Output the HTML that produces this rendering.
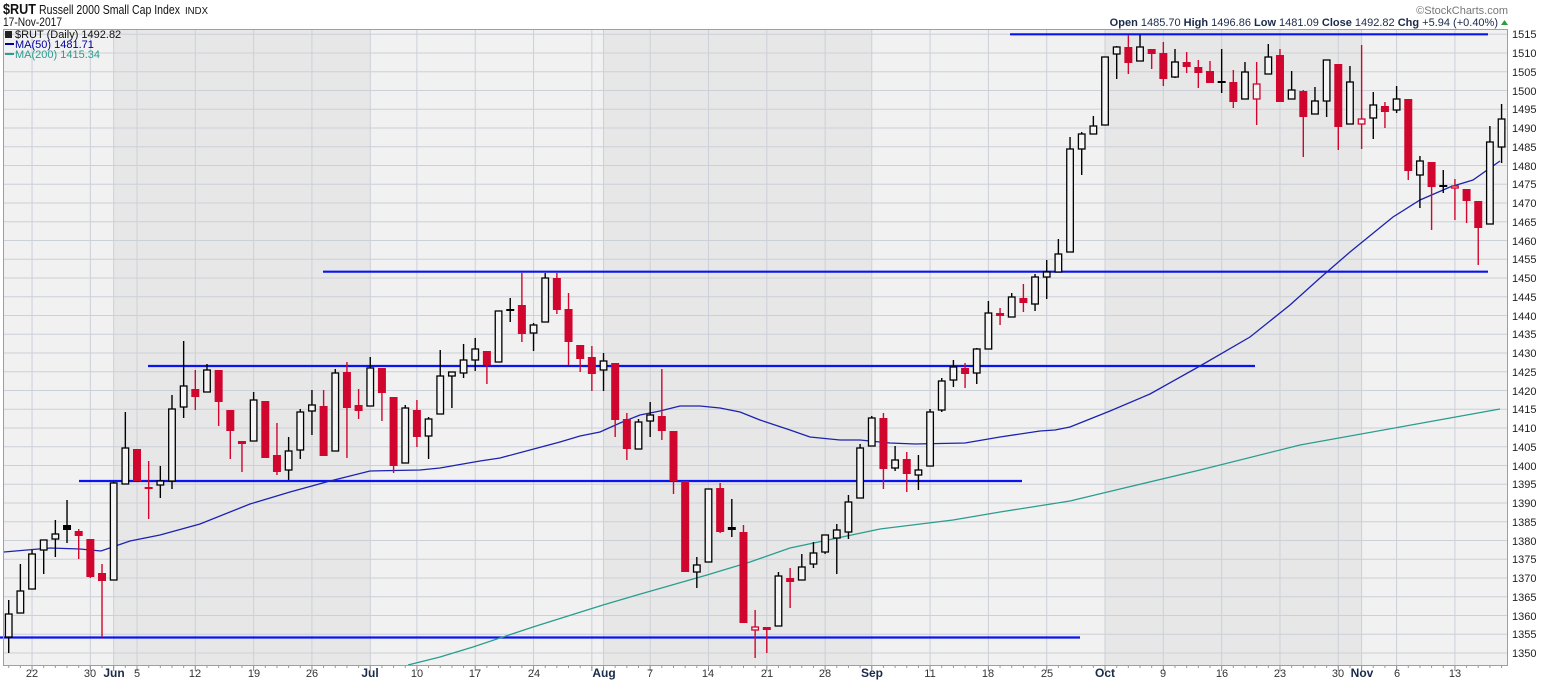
<!DOCTYPE html>
<html><head><meta charset="utf-8"><style>
html,body{margin:0;padding:0;background:#fff;width:1542px;height:680px;overflow:hidden}
svg{display:block}
text{font-family:"Liberation Sans",Arial,sans-serif}
</style></head><body>
<svg id="s" width="1542" height="680" xmlns="http://www.w3.org/2000/svg">
<rect x="0" y="0" width="1542" height="680" fill="#fff"/>
<g id="bg"></g>
<g id="grid"></g>
<g id="hl"></g>
<g id="ma"></g>
<g id="cs"></g>
<rect x="3.5" y="29.5" width="1504" height="636" fill="none" stroke="#9aa0a8" stroke-width="1"/>
<g id="ticks"></g>
<text x="3" y="14" font-size="15" font-weight="bold" fill="#111" textLength="33" lengthAdjust="spacingAndGlyphs">$RUT</text>
<text x="39" y="14" font-size="13" fill="#111" textLength="141" lengthAdjust="spacingAndGlyphs">Russell 2000 Small Cap Index</text>
<text x="185" y="14" font-size="10" fill="#111" textLength="23" lengthAdjust="spacingAndGlyphs">INDX</text>
<text x="3" y="26" font-size="12" fill="#111" textLength="59" lengthAdjust="spacingAndGlyphs">17-Nov-2017</text>
<rect x="5" y="31" width="7" height="7" fill="#222"/>
<text x="15" y="38" font-size="11" fill="#111">$RUT (Daily) 1492.82</text>
<line x1="5" y1="44" x2="14" y2="44" stroke="#0000a0" stroke-width="2"/>
<text x="15" y="48" font-size="11" fill="#0000a0">MA(50) 1481.71</text>
<line x1="5" y1="54" x2="14" y2="54" stroke="#2a9d8f" stroke-width="2"/>
<text x="15" y="58" font-size="11" fill="#2a9d8f">MA(200) 1415.34</text>
<text x="1508" y="14" font-size="11" fill="#777" text-anchor="end">©StockCharts.com</text>
<text x="1498" y="26" font-size="11" fill="#1a2a4a" text-anchor="end"><tspan font-weight="bold">Open</tspan> 1485.70  <tspan font-weight="bold">High</tspan> 1496.86  <tspan font-weight="bold">Low</tspan> 1481.09  <tspan font-weight="bold">Close</tspan> 1492.82  <tspan font-weight="bold">Chg</tspan> +5.94 (+0.40%)</text>
<polygon points="1501,25 1508,25 1504.5,20" fill="#2a9d3f"/>
<g font-size="11" fill="#222">
<text x="1512" y="38">1515</text><text x="1512" y="57">1510</text><text x="1512" y="76">1505</text><text x="1512" y="95">1500</text><text x="1512" y="113">1495</text><text x="1512" y="132">1490</text><text x="1512" y="151">1485</text><text x="1512" y="170">1480</text><text x="1512" y="188">1475</text><text x="1512" y="207">1470</text><text x="1512" y="226">1465</text><text x="1512" y="245">1460</text><text x="1512" y="263">1455</text><text x="1512" y="282">1450</text><text x="1512" y="301">1445</text><text x="1512" y="320">1440</text><text x="1512" y="338">1435</text><text x="1512" y="357">1430</text><text x="1512" y="376">1425</text><text x="1512" y="395">1420</text><text x="1512" y="413">1415</text><text x="1512" y="432">1410</text><text x="1512" y="451">1405</text><text x="1512" y="470">1400</text><text x="1512" y="488">1395</text><text x="1512" y="507">1390</text><text x="1512" y="526">1385</text><text x="1512" y="545">1380</text><text x="1512" y="563">1375</text><text x="1512" y="582">1370</text><text x="1512" y="601">1365</text><text x="1512" y="620">1360</text><text x="1512" y="638">1355</text><text x="1512" y="657">1350</text>
</g>
<g font-size="11" fill="#333" text-anchor="middle">
<text x="32" y="677">22</text><text x="90" y="677">30</text><text x="137" y="677">5</text><text x="195" y="677">12</text><text x="254" y="677">19</text><text x="312" y="677">26</text><text x="417" y="677">10</text><text x="475" y="677">17</text><text x="534" y="677">24</text><text x="650" y="677">7</text><text x="708" y="677">14</text><text x="767" y="677">21</text><text x="825" y="677">28</text><text x="930" y="677">11</text><text x="988" y="677">18</text><text x="1047" y="677">25</text><text x="1163" y="677">9</text><text x="1222" y="677">16</text><text x="1280" y="677">23</text><text x="1338" y="677">30</text><text x="1397" y="677">6</text><text x="1455" y="677">13</text>
</g>
<g font-size="12" font-weight="bold" fill="#1a2a4a" text-anchor="middle">
<text x="114" y="677">Jun</text><text x="370" y="677">Jul</text><text x="604" y="677">Aug</text><text x="872" y="677">Sep</text><text x="1105" y="677">Oct</text><text x="1362" y="677">Nov</text>
</g>
</svg>
<script>
var NS="http://www.w3.org/2000/svg";
function X(i){return 137+(i-11)*11.663;}
function el(p,t,a){var e=document.createElementNS(NS,t);for(var k in a)e.setAttribute(k,a[k]);document.getElementById(p).appendChild(e);return e;}
el("bg","rect",{x:4,y:30,width:1503,height:635,fill:"#f0f1f0"});
[[9,31],[51,74],[94,116]].forEach(function(m){var a=X(m[0]),b=X(m[1]);el("bg","rect",{x:a,y:30,width:b-a,height:635,fill:"#e7e7e7"});});
for(var k=0;k<=33;k++){var y=34.3+k*18.75;el("grid","line",{x1:4,x2:1507,y1:y,y2:y,stroke:"#ccd0d8","stroke-width":1});}
[2,7,9,11,16,21,26,31,35,40,45,50,51,55,60,65,70,74,79,84,89,94,99,104,109,114,116,119,124].forEach(function(i){var x=X(i);el("grid","line",{x1:x,x2:x,y1:30,y2:665,stroke:"#ccd0d8","stroke-width":1});el("ticks","line",{x1:x,x2:x,y1:666,y2:671,stroke:"#888"});});
for(var i=0;i<=128;i++){var x=X(i);el("ticks","line",{x1:x,x2:x,y1:666,y2:668,stroke:"#999"});}
[[1010,1488,34.3],[323,1488,271.7],[148,1255,366],[79,1022,481],[0,1080,637.5]].forEach(function(l){el("hl","line",{x1:l[0],x2:l[1],y1:l[2],y2:l[2],stroke:"#0a14f0","stroke-width":2.2});});
el("ma","polyline",{fill:"none",stroke:"#2a9d8f","stroke-width":1.3,points:"408,665 440,657 473,647 533,627 603,605 637,595 707,575 750,562 790,548 880,529 953,520 1000,512 1070,501 1120,489 1200,470 1300,445 1400,427 1500,409"});
el("ma","polyline",{fill:"none",stroke:"#1c22b0","stroke-width":1.3,points:"4,552 50,548 80,549 101,551 130,541 160,535 200,524 250,504 290,492 330,481 370,471 420,470 440,468 480,461 500,458 530,450 560,442 580,436 600,432 620,423 640,415 660,411 680,406 700,406 720,408 740,412 760,420 790,430 810,437 840,440 860,440 890,443 915,444 965,443 1000,437 1040,431 1055,430 1070,427 1090,419 1110,411 1150,394 1200,366 1250,337 1290,305 1320,278 1350,252 1393,217 1420,200 1450,187 1473,180 1500,161"});
var D=[[614,637,600,653,"h"],[591,613,564,613,"h"],[554,589,550,589,"h"],[540,550,540,574,"h"],[534,539,520,557,"h"],[525,530,500,543,"b"],[531,536,529,559,"r"],[539,577,539,578,"r"],[573,581,564,637,"r"],[483,580,482,580,"h"],[448,484,412,484,"h"],[449,481,449,481,"r"],[487,488,461,519,"r"],[481,485,466,498,"h"],[409,481,395,489,"h"],[386,407,341,418,"h"],[389,397,370,410,"r"],[370,392,364,392,"h"],[370,402,370,426,"r"],[410,431,410,459,"r"],[441,444,441,472,"r"],[400,441,392,441,"h"],[401,458,401,458,"r"],[455,472,423,475,"r"],[451,470,437,480,"h"],[412,450,409,459,"h"],[405,411,390,435,"h"],[406,456,390,456,"r"],[373,451,369,451,"h"],[372,408,362,458,"r"],[405,411,389,419,"r"],[368,406,357,406,"h"],[368,393,368,421,"r"],[397,466,397,473,"r"],[408,463,405,463,"h"],[410,437,400,447,"r"],[419,436,417,459,"h"],[376,414,350,414,"h"],[372,376,372,408,"h"],[360,373,344,378,"h"],[349,360,338,371,"h"],[351,365,351,384,"r"],[311,362,311,362,"h"],[309,310,298,322,"b"],[305,334,273,342,"r"],[325,333,323,351,"h"],[278,322,273,322,"h"],[278,310,273,314,"r"],[309,342,293,365,"r"],[345,359,345,372,"r"],[357,374,346,391,"r"],[361,370,353,391,"h"],[363,420,363,437,"r"],[419,449,413,460,"r"],[422,449,419,449,"h"],[415,421,402,437,"h"],[416,431,369,440,"r"],[431,481,431,494,"r"],[481,572,481,572,"r"],[565,572,557,588,"h"],[489,562,489,562,"h"],[488,532,483,533,"r"],[527,530,499,537,"b"],[532,623,525,623,"r"],[627,630,610,658,"rh"],[627,630,627,653,"r"],[576,626,572,626,"h"],[578,582,568,608,"r"],[567,580,554,580,"h"],[553,564,542,568,"h"],[535,552,535,554,"h"],[530,538,524,574,"h"],[502,532,495,539,"h"],[448,498,444,498,"h"],[418,446,416,446,"h"],[418,469,413,489,"r"],[460,468,446,471,"h"],[459,474,452,492,"r"],[470,475,455,490,"h"],[412,466,409,466,"h"],[381,410,378,412,"h"],[367,380,360,387,"h"],[368,374,363,388,"r"],[349,373,348,384,"h"],[313,349,301,349,"h"],[313,316,308,325,"r"],[297,317,293,317,"h"],[298,303,284,312,"r"],[277,304,274,311,"h"],[272,277,260,299,"h"],[254,272,239,272,"h"],[149,252,137,252,"h"],[134,149,132,175,"h"],[126,134,116,134,"h"],[57,125,57,125,"h"],[47,54,46,79,"h"],[47,63,35,74,"r"],[47,61,35,61,"h"],[49,54,49,69,"r"],[53,79,42,86,"r"],[62,77,49,78,"h"],[62,67,52,73,"r"],[67,73,60,88,"r"],[71,83,61,83,"r"],[81,83,49,93,"b"],[82,102,70,108,"r"],[72,99,62,99,"h"],[84,99,62,125,"rh"],[57,74,44,74,"h"],[55,102,49,102,"r"],[90,99,71,99,"h"],[91,117,90,157,"r"],[101,114,87,114,"h"],[60,101,60,117,"h"],[64,127,64,150,"r"],[82,124,66,124,"h"],[119,124,45,149,"rh"],[105,118,92,139,"h"],[106,112,102,128,"r"],[99,110,86,113,"h"],[99,171,99,180,"r"],[161,175,156,208,"h"],[162,187,162,230,"r"],[185,187,170,193,"b"],[186,188,179,220,"rh"],[189,201,189,223,"r"],[201,228,201,265,"r"],[142,224,126,224,"h"],[119,147,104,163,"h"]];
var RED="#d0062f";
D.forEach(function(d,i){var x=X(i),t=d[4],col=(t=="r"||t=="rh")?RED:"#000";
el("cs","line",{x1:x,x2:x,y1:d[2],y2:d[3],stroke:col,"stroke-width":1.4});
var h=Math.max(d[1]-d[0],2);
if(t=="r"||t=="b")el("cs","rect",{x:x-4,y:d[0],width:8,height:h,fill:col});
else el("cs","rect",{x:x-3.3,y:d[0],width:6.6,height:h,fill:"#f4f4f4",stroke:col,"stroke-width":1.3});
});
</script>
</body></html>
